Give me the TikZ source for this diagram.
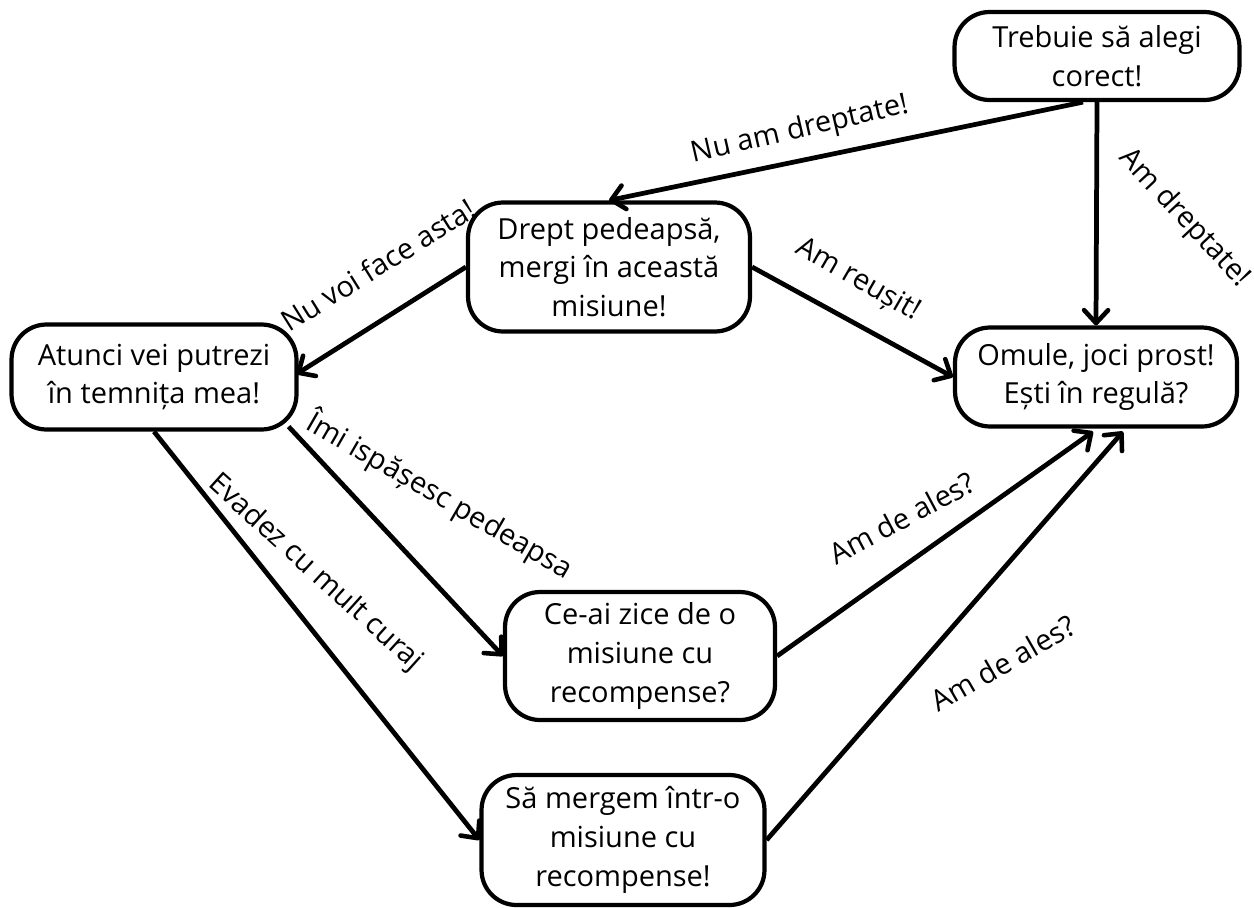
\documentclass[tikz,border=0pt]{standalone}
\usepackage{fontspec}
\setmainfont{Open Sans}
\usepackage{tikz}
\usetikzlibrary{arrows.meta,calc}

\begin{document}
\begin{tikzpicture}[
    x=0.02cm, y=-0.02cm,
    box/.style={rectangle, draw=black, fill=white, line width=2.4pt, rounded corners=0.7cm, align=center, inner sep=0pt, font=\fontsize{16.5}{22}\selectfont},
    lbl/.style={inner sep=0pt, font=\fontsize{16.5}{22}\selectfont},
    arrow/.style={-{Straight Barb[length=2.6mm, width=4.8mm, line width=2.6pt, round]}, line width=2.7pt}
]
    \useasboundingbox (0,0) rectangle (1254,907);

    \node [box, minimum width=5.7cm, minimum height=1.76cm] (trebuie) at (1097,56) {Trebuie să alegi\\corect!};
    \node [box, minimum width=5.64cm, minimum height=2.58cm] (drept) at (609,267) {Drept pedeapsă,\\mergi în această\\misiune!};
    \node [box, minimum width=5.7cm, minimum height=2.1cm] (atunci) at (154,377) {Atunci vei putrezi\\în temnița mea!};
    \node [box, minimum width=5.64cm, minimum height=1.98cm] (omule) at (1096,377) {Omule, joci prost!\\Ești în regulă?};
    \node [box, minimum width=5.4cm, minimum height=2.56cm] (ceai) at (640,656) {Ce-ai zice de o\\misiune cu\\recompense?};
    \node [box, minimum width=5.66cm, minimum height=2.6cm] (sa) at (623,840) {Să mergem într-o\\misiune cu\\recompense!};

    \draw [arrow] ($(trebuie.south)+(-14,0)$) -- (drept.north);
    \draw [arrow] (trebuie.south) -- (omule.north);
    \draw [arrow] (drept.west) -- ($(atunci.east)+(-2,-3)$);
    \draw [arrow] (drept.east) -- (omule.west);
    \draw [arrow] ($(atunci.south east)+(-10,-5)$) -- (ceai.west);
    \draw [arrow] (atunci.south) -- (sa.west);
    \draw [arrow] (ceai.east) -- ($(omule.south)+(-3,3)$);
    \draw [arrow] (sa.east) -- ($(omule.south)+(27,3)$);

    \node [lbl, rotate=13] (l1) at (800,130) {Nu am dreptate!};
    \node [lbl, rotate=-47] (l2) at (1184,218) {Am dreptate!};
    \node [lbl, rotate=32] (l3) at (378,265) {Nu voi face asta!};
    \node [lbl, rotate=-30] (l4) at (858,280) {Am reușit!};
    \node [lbl, rotate=-30] (l5) at (440,495) {Îmi ispășesc pedeapsa};
    \node [lbl, rotate=-42] (l6) at (315,573) {Evadez cu mult curaj};
    \node [lbl, rotate=28] (l7) at (902,518) {Am de ales?};
    \node [lbl, rotate=30] (l8) at (1003,663) {Am de ales?};
\end{tikzpicture}
\end{document}
